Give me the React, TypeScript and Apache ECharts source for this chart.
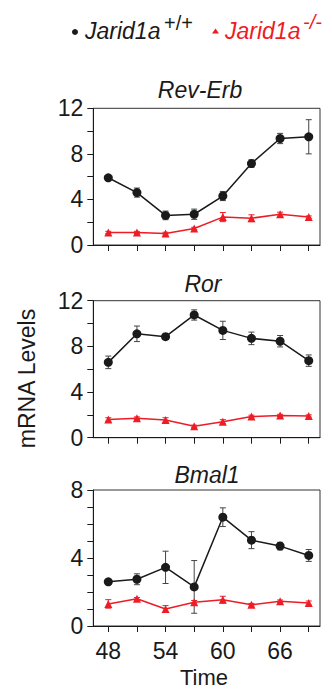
import React, { useEffect, useRef } from "react";
import * as echarts from "echarts";

const time = [48, 51, 54, 57, 60, 63, 66, 69];
const xTicks = [48, 51, 54, 57, 60, 63, 66, 69];
const xLabels = [48, 54, 60, 66];

const revErbWT = [5.9, 4.6, 2.6, 2.7, 4.3, 7.15, 9.35, 9.5];
const revErbWTErr = [0.1, 0.4, 0.38, 0.45, 0.4, 0.33, 0.45, 1.5];
const revErbKO = [1.1, 1.1, 1.0, 1.45, 2.45, 2.35, 2.7, 2.45];
const revErbKOErr = [0.1, 0.1, 0.12, 0.1, 0.4, 0.3, 0.18, 0.1];

const rorWT = [6.6, 9.1, 8.85, 10.75, 9.4, 8.7, 8.45, 6.75];
const rorWTErr = [0.55, 0.68, 0.2, 0.45, 0.8, 0.55, 0.5, 0.5];
const rorKO = [1.6, 1.7, 1.55, 1.0, 1.4, 1.85, 1.95, 1.9];
const rorKOErr = [0.15, 0.12, 0.2, 0.1, 0.18, 0.12, 0.1, 0.1];

const bmalWT = [2.6, 2.75, 3.45, 2.3, 6.4, 5.05, 4.7, 4.15];
const bmalWTErr = [0.15, 0.32, 0.95, 1.55, 0.55, 0.5, 0.22, 0.35];
const bmalKO = [1.3, 1.6, 1.0, 1.4, 1.55, 1.25, 1.45, 1.35];
const bmalKOErr = [0.25, 0.08, 0.2, 0.1, 0.2, 0.08, 0.08, 0.12];

const panelTitles = ["Rev-Erb", "Ror", "Bmal1"];
const yMax = [12, 12, 8];
const yTickStep = [2, 2, 1];
const yLabelVals = [[0, 4, 8, 12], [0, 4, 8, 12], [0, 4, 8]];

const WT_NAME = "Jarid1a+/+";
const KO_NAME = "Jarid1a-/-";

const FONT = "Liberation Sans, Arial, Helvetica, sans-serif";
const BLACK = "#1a1a1a";
const RED = "#ee1c25";

const grids = [
  { left: 93.3, right: 12, top: 108.3, height: 136.7 },
  { left: 93.3, right: 12, top: 300.7, height: 137 },
  { left: 93.3, right: 12, top: 490, height: 136 },
];

function range(a: number, b: number, s: number) {
  const r: number[] = [];
  for (let v = a; v <= b + 1e-9; v += s) r.push(Math.round(v * 1000) / 1000);
  return r;
}

function errRender(color: string) {
  return (params: any, api: any) => {
    const x = api.value(0);
    const lo = api.coord([x, api.value(1)]);
    const hi = api.coord([x, api.value(2)]);
    const cap = 3;
    const style = { stroke: color, lineWidth: 1 };
    return {
      type: "group",
      children: [
        { type: "line", shape: { x1: lo[0], y1: lo[1], x2: hi[0], y2: hi[1] }, style },
        { type: "line", shape: { x1: lo[0] - cap, y1: lo[1], x2: lo[0] + cap, y2: lo[1] }, style },
        { type: "line", shape: { x1: hi[0] - cap, y1: hi[1], x2: hi[0] + cap, y2: hi[1] }, style },
      ],
    };
  };
}

export default function App() {
  const ref = useRef<HTMLDivElement>(null);
  useEffect(() => {
    if (!ref.current) return;
    const chart = echarts.init(ref.current, undefined, { renderer: "svg" });
    const panels = [
      { wt: revErbWT, wtE: revErbWTErr, ko: revErbKO, koE: revErbKOErr },
      { wt: rorWT, wtE: rorWTErr, ko: rorKO, koE: rorKOErr },
      { wt: bmalWT, wtE: bmalWTErr, ko: bmalKO, koE: bmalKOErr },
    ];
    const xAxis = grids.map((_, i) => ({
      type: "value",
      gridIndex: i,
      min: 46.43,
      max: 70.18,
      axisLine: { show: true, onZero: false, lineStyle: { color: BLACK, width: 1 } },
      axisTick: { show: true, length: 6, inside: false, customValues: xTicks, lineStyle: { color: BLACK } },
      axisLabel: {
        show: i === 2,
        customValues: xLabels,
        margin: 13,
        fontSize: 23,
        color: BLACK,
        fontFamily: FONT,
      },
      splitLine: { show: false },
    }));
    const yAxis = grids.map((_, i) => ({
      type: "value",
      gridIndex: i,
      min: 0,
      max: yMax[i],
      axisLine: { show: true, lineStyle: { color: BLACK, width: 1 } },
      axisTick: { show: true, length: 6, customValues: range(0, yMax[i], yTickStep[i]), lineStyle: { color: BLACK } },
      axisLabel: {
        customValues: yLabelVals[i],
        margin: 10,
        fontSize: 23,
        color: BLACK,
        fontFamily: FONT,
      },
      splitLine: { show: false },
    }));
    const series: any[] = [];
    panels.forEach((p, i) => {
      series.push({
        type: "custom",
        name: WT_NAME + " error",
        xAxisIndex: i,
        yAxisIndex: i,
        renderItem: errRender("#444"),
        encode: { x: 0, y: [1, 2] },
        data: time.map((t, j) => [t, p.wt[j] - p.wtE[j], p.wt[j] + p.wtE[j]]),
        z: 1,
        silent: true,
      });
      series.push({
        type: "custom",
        name: KO_NAME + " error",
        xAxisIndex: i,
        yAxisIndex: i,
        renderItem: errRender(RED),
        encode: { x: 0, y: [1, 2] },
        data: time.map((t, j) => [t, p.ko[j] - p.koE[j], p.ko[j] + p.koE[j]]),
        z: 1,
        silent: true,
      });
      series.push({
        type: "line",
        name: KO_NAME,
        xAxisIndex: i,
        yAxisIndex: i,
        data: time.map((t, j) => [t, p.ko[j]]),
        symbol: "triangle",
        symbolSize: 8,
        lineStyle: { color: RED, width: 1.5 },
        itemStyle: { color: RED },
        z: 3,
      });
      series.push({
        type: "line",
        name: WT_NAME,
        xAxisIndex: i,
        yAxisIndex: i,
        data: time.map((t, j) => [t, p.wt[j]]),
        symbol: "circle",
        symbolSize: 9,
        lineStyle: { color: BLACK, width: 1.5 },
        itemStyle: { color: BLACK },
        z: 4,
      });
    });
    const titleY = [90, 284, 475];
    const titleX = [200, 203, 207];
    const graphic: any[] = [
      ...panelTitles.map((t, i) => ({
        type: "text",
        x: titleX[i],
        y: titleY[i],
        style: {
          text: t,
          font: `italic 23px ${FONT}`,
          fill: BLACK,
          align: "center",
          verticalAlign: "middle",
        },
      })),
      {
        type: "text",
        x: 204,
        y: 677.5,
        style: { text: "Time", font: `22px ${FONT}`, fill: BLACK, align: "center", verticalAlign: "middle" },
      },
      {
        type: "text",
        x: 27,
        y: 378.5,
        rotation: Math.PI / 2,
        style: { text: "mRNA Levels", font: `23px ${FONT}`, fill: BLACK, align: "center", verticalAlign: "middle" },
      },
      { type: "circle", shape: { cx: 75, cy: 32, r: 3 }, style: { fill: BLACK } },
      {
        type: "text",
        x: 85,
        y: 31,
        style: { text: "Jarid1a", font: `italic 23px ${FONT}`, fill: BLACK, align: "left", verticalAlign: "middle" },
      },
      {
        type: "text",
        x: 164,
        y: 23,
        style: { text: "+/+", font: `20px ${FONT}`, fill: BLACK, align: "left", verticalAlign: "middle" },
      },
      {
        type: "polygon",
        shape: { points: [[215.5, 28.5], [219, 33.5], [212, 33.5]] },
        style: { fill: RED },
      },
      {
        type: "text",
        x: 225,
        y: 31,
        style: { text: "Jarid1a", font: `italic 23px ${FONT}`, fill: RED, align: "left", verticalAlign: "middle" },
      },
      {
        type: "text",
        x: 303,
        y: 22,
        style: { text: "-/-", font: `italic 20px ${FONT}`, fill: RED, align: "left", verticalAlign: "middle" },
      },
    ];
    chart.setOption({
      animation: false,
      backgroundColor: "#ffffff",
      grid: grids.map((g) => ({ ...g, show: true, borderColor: "#333", borderWidth: 1, backgroundColor: "transparent" })),
      xAxis,
      yAxis,
      series,
      graphic,
    });
    return () => chart.dispose();
  }, []);
  return <div ref={ref} style={{ position: "fixed", left: 0, top: 0, width: 332, height: 694 }} />;
}
